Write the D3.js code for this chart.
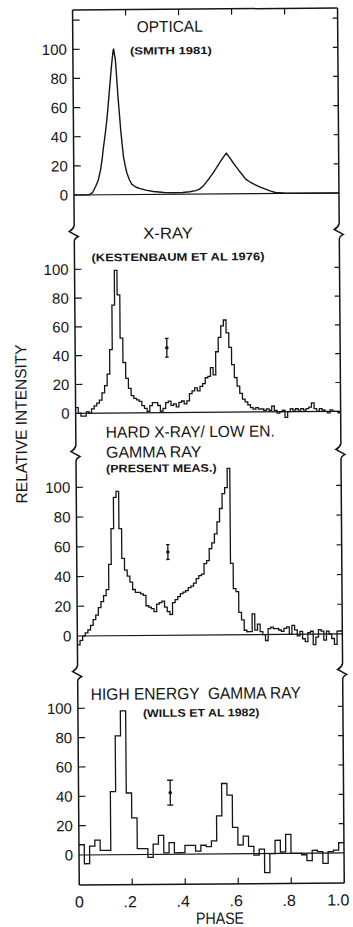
<!DOCTYPE html>
<html>
<head>
<meta charset="utf-8">
<script src="https://cdn.jsdelivr.net/npm/d3@7"></script>
<style>
body{margin:0;background:#fff}
svg{display:block}
text{font-family:"Liberation Sans",Arial,sans-serif;fill:#151515;white-space:pre}
</style>
</head>
<body>
<svg id="chart" width="353" height="927"></svg>
<script>
// ---- values ----
var phaseTicks = [0, 0.2, 0.4, 0.6, 0.8, 1.0];
var phaseLabels = ['0', '.2', '.4', '.6', '.8', '1.0'];
var valueTicks = [0, 20, 40, 60, 80, 100];

var panelTitles = [
  ['OPTICAL', '(SMITH 1981)'],
  ['X-RAY', '(KESTENBAUM ET AL 1976)'],
  ['HARD X-RAY/ LOW EN.', 'GAMMA RAY', '(PRESENT MEAS.)'],
  ['HIGH ENERGY  GAMMA RAY', '(WILLS ET AL 1982)']
];

// optical light curve (smooth)
var opticalPhase = [0, 0.057, 0.07, 0.082, 0.092, 0.101, 0.107, 0.113, 0.12, 0.126, 0.132, 0.138, 0.144, 0.148, 0.152, 0.154,
  0.157, 0.16, 0.164, 0.169, 0.174, 0.178, 0.183, 0.188, 0.194, 0.2, 0.21, 0.219, 0.235, 0.25, 0.275, 0.3, 0.34, 0.374,
  0.41, 0.437, 0.46, 0.474, 0.488, 0.499, 0.512, 0.524, 0.537, 0.549, 0.562, 0.576, 0.588, 0.599, 0.611, 0.623, 0.636,
  0.648, 0.665, 0.685, 0.705, 0.723, 0.74, 0.76, 0.8, 0.847, 1.0];
var opticalValue = [0, 0, 1.5, 5.7, 10, 17, 24, 33, 42, 51, 62, 74, 86, 93, 99, 100,
  96, 93, 82, 67, 55, 45, 35, 26, 20, 15, 10, 7, 5, 4, 2.8, 2, 1.3, 1,
  1.2, 1.6, 2.4, 3.4, 5.5, 8, 11, 14, 17.5, 21, 24.5, 28, 25, 22, 19, 16, 13,
  10, 8, 6, 4.3, 3, 1.8, 0.7, 0.2, 0, 0];

// x-ray histogram, 100 bins of 0.01 phase
var xrayBins = [4, 0, -2, -2, 1, 0, 3, 5, 7, 9,
  14, 19, 27, 44, 75, 99, 82, 52, 35, 24,
  17, 12, 10, 9, 8, 5, 3, 1, 5, 7,
  7, 5, 1, 3, 7, 8, 5, 6, 4, 7,
  8, 6, 8, 13, 15, 17, 15, 18, 20, 24,
  25, 31, 26, 42, 52, 60, 64, 55, 45, 33,
  24, 18, 13, 9, 7, 5, 3, 2, 3, 2,
  2, 1, 2, 1, 4, 1, -1, 0, 1, -4,
  0, 2, 1, 2, 1, 2, 1, 2, 3, 6,
  2, 0, 2, 1, 0, -1, 1, 0, 0, -1];

// hard x-ray / low energy gamma histogram, 100 bins of 0.01 phase
var hardBins = [-6, -3, 0, 2, 4, 7, 11, 14, 19, 23,
  27, 31, 48, 72, 93, 97, 72, 52, 44, 40,
  36, 31, 29, 29, 28, 27, 20, 19, 18, 16,
  21, 22, 23, 19, 16, 14, 22, 24, 26, 28,
  29, 30, 32, 33, 35, 38, 40, 41, 48, 50,
  58, 62, 68, 76, 85, 95, 99, 112, 48, 31,
  29, 15, 10, 3, 2, 2, 14, 3, 7, 2,
  0, -4, 4, 5, 4, 4, 3, 2, 4, 5,
  0, 6, 3, -1, 2, -3, -5, 1, 2, -7,
  -2, 3, 2, -4, 2, 0, -3, -7, 2, 2];

// high energy gamma histogram, 50 bins of 0.02 phase
var gammaBins = [7, -6, 6, 10, 3, 3, 43, 81, 98, 42,
  25, 4, 4, -2, 7, 13, 1, 8, 1, 1,
  6, 6, 2, 6, 5, 9, 26, 48, 40, 18,
  6, 12, 5, -1, 3, -13, 0, 9, 1, 13,
  0, 0, -1, -5, 2, 1, -7, 1, 2, 7];

// representative error bars (x-ray, hard, gamma)
var errPhase = [0.346, 0.344, 0.346];
var errValue = [45, 56, 42];
var errSize = [6.5, 5, 8.5];

// ---- layout ----
var svg = d3.select('#chart');
// scanned figure sits a little tilted
var g = svg.append('g').attr('transform', 'rotate(-0.44,208,460)');

var fLeft = 76, fRight = 341, fTop = 9, fBottom = 884;
var x = d3.scaleLinear().domain([0, 1]).range([fLeft, fRight]);

var panels = [
  {y0: 194, y100: 48.3, ticks: [20, 40, 60, 80, 100, 120]},
  {y0: 412.3, y100: 268.3, ticks: [20, 40, 60, 80, 100]},
  {y0: 635, y100: 486.3, ticks: [20, 40, 60, 80, 100]},
  {y0: 854, y100: 707.3, ticks: [20, 40, 60, 80, 100]}
];
panels.forEach(function(p){
  p.y = d3.scaleLinear().domain([0, 100]).range([p.y0, p.y100]);
});
var breaks = [231.5, 451.5, 671.5];

var ink = '#151515';

// frame: top line, bottom axis, left/right with break kinks
var side = function(xx){
  var pth = d3.path();
  pth.moveTo(xx, fTop);
  breaks.forEach(function(b){
    pth.lineTo(xx, b - 7);
    pth.quadraticCurveTo(xx - 1, b - 3, xx - 5, b - 1);
    pth.lineTo(xx + 4, b + 4);
    pth.quadraticCurveTo(xx, b + 6, xx, b + 9);
  });
  pth.lineTo(xx, fBottom);
  return pth.toString();
};
g.append('path').attr('d', side(fLeft)).attr('fill', 'none').attr('stroke', ink).attr('stroke-width', 1.5);
g.append('path').attr('d', side(fRight)).attr('fill', 'none').attr('stroke', ink).attr('stroke-width', 1.5);
g.append('line').attr('x1', fLeft).attr('x2', fRight).attr('y1', fTop).attr('y2', fTop)
  .attr('stroke', ink).attr('stroke-width', 1.5);
g.append('line').attr('x1', fLeft).attr('x2', fRight).attr('y1', fBottom).attr('y2', fBottom)
  .attr('stroke', ink).attr('stroke-width', 1.5);

// top ticks (panel 1) and bottom ticks (panel 4)
var inner = phaseTicks.slice(1, -1);
g.selectAll('.ttick').data(inner).enter().append('line')
  .attr('x1', function(d){ return x(d); }).attr('x2', function(d){ return x(d); })
  .attr('y1', fTop).attr('y2', fTop + 6).attr('stroke', ink).attr('stroke-width', 1.2);
g.selectAll('.btick').data(inner).enter().append('line')
  .attr('x1', function(d){ return x(d); }).attr('x2', function(d){ return x(d); })
  .attr('y1', fBottom).attr('y2', fBottom - 6).attr('stroke', ink).attr('stroke-width', 1.2);

// phase labels: the digit sits under its tick, the dot hangs left
g.selectAll('.plab').data(phaseTicks).enter().append('text')
  .attr('x', function(d, i){ return i == 0 ? x(d) : (i == 5 ? x(d) + 5 : x(d) + 4.5); })
  .attr('y', 906.5)
  .attr('text-anchor', function(d, i){ return i == 0 ? 'middle' : 'end'; })
  .attr('font-size', 16)
  .text(function(d, i){ return phaseLabels[i]; });
g.append('text').attr('x', 216.5).attr('y', 924).attr('text-anchor', 'middle')
  .attr('font-size', 16.5).attr('textLength', 48).attr('lengthAdjust', 'spacingAndGlyphs').text('PHASE');

g.append('text').attr('transform', 'translate(27,422.5) rotate(-90)')
  .attr('text-anchor', 'middle').attr('font-size', 16)
  .attr('textLength', 159).attr('lengthAdjust', 'spacingAndGlyphs')
  .text('RELATIVE INTENSITY');

// per panel: ticks, labels, zero line
panels.forEach(function(p, pi){
  var pg = g.append('g');
  pg.selectAll('.lt').data(p.ticks).enter().append('line')
    .attr('x1', fLeft).attr('x2', fLeft + 7)
    .attr('y1', function(d){ return p.y(d); }).attr('y2', function(d){ return p.y(d); })
    .attr('stroke', ink).attr('stroke-width', 1.2);
  pg.selectAll('.rt').data(p.ticks).enter().append('line')
    .attr('x1', fRight).attr('x2', fRight - 5)
    .attr('y1', function(d){ return p.y(d); }).attr('y2', function(d){ return p.y(d); })
    .attr('stroke', ink).attr('stroke-width', 1.2);
  pg.selectAll('.yl').data(valueTicks).enter().append('text')
    .attr('x', fLeft - 6)
    .attr('y', function(d){ return p.y(d); })
    .attr('dy', '0.36em')
    .attr('text-anchor', 'end')
    .attr('font-size', 15)
    .text(function(d){ return d; });
  pg.append('line').attr('x1', fLeft).attr('x2', fRight)
    .attr('y1', p.y(0)).attr('y2', p.y(0)).attr('stroke', ink).attr('stroke-width', 1.2);
});

// titles
var titleLayout = [
  [{x: 140, y: 31.7, w: 66, fs: 16}, {x: 133, y: 54, w: 82, fs: 10.5, b: 1}],
  [{x: 145, y: 238.3, w: 49.5, fs: 16}, {x: 93, y: 260.5, w: 173, fs: 11, b: 1}],
  [{x: 106, y: 437, w: 169, fs: 16}, {x: 106, y: 457, w: 95.5, fs: 16}, {x: 106, y: 471.7, w: 110.5, fs: 11, b: 1}],
  [{x: 89, y: 699, w: 210, fs: 16.5}, {x: 141, y: 716.5, w: 116.5, fs: 11, b: 1}]
];
panelTitles.forEach(function(lines, pi){
  lines.forEach(function(t, li){
    var l = titleLayout[pi][li];
    g.append('text').attr('x', l.x).attr('y', l.y)
      .attr('font-size', l.fs)
      .attr('font-weight', l.b ? 'bold' : 'normal')
      .attr('textLength', l.w).attr('lengthAdjust', 'spacingAndGlyphs')
      .text(t);
  });
});

// optical curve
var opt = d3.line()
  .x(function(d){ return x(d[0]); })
  .y(function(d){ return panels[0].y(d[1]); });
g.append('path')
  .attr('d', opt(opticalPhase.map(function(ph, i){ return [ph, opticalValue[i]]; })))
  .attr('fill', 'none').attr('stroke', ink).attr('stroke-width', 1.4).attr('stroke-linejoin', 'round');

// histograms
var histo = function(bins, p){
  var w = 1 / bins.length;
  var pts = bins.map(function(v, i){ return [i * w, v]; });
  pts.push([1, bins[bins.length - 1]]);
  var ln = d3.line().curve(d3.curveStepAfter)
    .x(function(d){ return x(d[0]); })
    .y(function(d){ return p.y(d[1]); });
  g.append('path').attr('d', ln(pts))
    .attr('fill', 'none').attr('stroke', ink).attr('stroke-width', 1.3);
};
histo(xrayBins, panels[1]);
histo(hardBins, panels[2]);
histo(gammaBins, panels[3]);

// error bars
errPhase.forEach(function(ph, i){
  var p = panels[i + 1];
  var cx = x(ph), cap = i == 2 ? 3 : 1.8;
  var eg = g.append('g').attr('stroke', ink).attr('stroke-width', 1.3);
  eg.append('line').attr('x1', cx).attr('x2', cx)
    .attr('y1', p.y(errValue[i] + errSize[i])).attr('y2', p.y(errValue[i] - errSize[i]));
  eg.append('line').attr('x1', cx - cap).attr('x2', cx + cap)
    .attr('y1', p.y(errValue[i] + errSize[i])).attr('y2', p.y(errValue[i] + errSize[i]));
  eg.append('line').attr('x1', cx - cap).attr('x2', cx + cap)
    .attr('y1', p.y(errValue[i] - errSize[i])).attr('y2', p.y(errValue[i] - errSize[i]));
  g.append('circle').attr('cx', cx).attr('cy', p.y(errValue[i])).attr('r', 1.8).attr('fill', ink);
});
</script>
</body>
</html>
